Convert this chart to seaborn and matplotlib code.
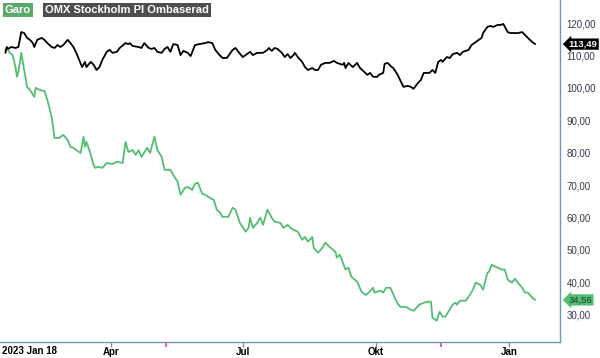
import matplotlib
matplotlib.use("Agg")
import pandas as pd
import matplotlib.pyplot as plt
import matplotlib.transforms as mtrans
import seaborn as sns

# --- DATA (days counted from 2023-01-18) ---
start_date = pd.Timestamp("2023-01-18")

garo_days = [0, 1, 3, 5, 7, 8, 9, 11, 13, 15, 17, 18, 20, 21, 24, 27, 29, 32, 34, 37,
             40, 43, 45, 47, 49, 52, 54, 55, 56, 58, 61, 62, 64, 67, 70, 74, 77, 81, 83, 85,
             88, 90, 92, 94, 98, 100, 103, 105, 108, 110, 114, 116, 119, 121, 124, 126, 129, 131, 133, 136,
             138, 141, 144, 146, 148, 150, 154, 157, 159, 162, 166, 168, 169, 171, 174, 176, 178, 181, 184, 186,
             190, 192, 195, 197, 199, 202, 205, 207, 209, 212, 213, 216, 219, 221, 224, 228, 229, 231, 235, 237,
             239, 243, 246, 249, 251, 254, 255, 259, 261, 263, 266, 269, 271, 273, 276, 278, 280, 282, 286, 291,
             294, 295, 298, 300, 302, 304, 306, 309, 311, 312, 314, 318, 321, 323, 325, 328, 330, 333, 334, 336,
             337, 340, 343, 345, 347, 350, 352, 354, 357, 359, 361, 364, 366]
garo_vals = [111.7, 112.3, 110.8, 110.1, 106.4, 103.4, 104.9, 110.8, 105.5, 100.3, 99.3, 98.7, 97.2, 100.0, 99.3, 99.0, 96.3, 91.0, 84.5, 84.5,
             85.5, 83.9, 81.8, 81.5, 80.8, 79.9, 84.9, 81.8, 83.3, 80.8, 76.2, 75.3, 75.6, 75.3, 76.8, 76.5, 77.2, 76.8, 83.3, 80.2,
             80.8, 79.3, 80.8, 78.7, 81.5, 79.9, 84.9, 80.8, 78.7, 74.7, 74.7, 73.1, 71.0, 67.0, 69.1, 69.4, 68.5, 70.4, 70.7, 67.3,
             67.0, 66.1, 65.4, 62.4, 61.7, 60.2, 60.2, 63.0, 62.4, 58.3, 55.6, 56.8, 59.9, 56.8, 58.3, 59.9, 57.7, 62.4, 59.9, 58.7,
             58.3, 56.8, 57.7, 56.8, 56.2, 55.6, 53.1, 54.0, 52.5, 54.0, 50.6, 49.1, 50.6, 52.2, 50.9, 49.4, 47.6, 48.5, 43.9, 44.5,
             41.7, 40.2, 37.1, 36.1, 36.8, 38.3, 36.8, 37.4, 36.8, 38.3, 38.3, 35.2, 33.4, 32.4, 32.4, 32.1, 31.5, 31.2, 33.1, 34.0,
             34.0, 29.1, 28.1, 30.9, 29.4, 29.4, 30.9, 33.1, 33.7, 33.1, 34.3, 34.3, 36.2, 37.7, 39.9, 39.2, 37.7, 42.9, 43.2, 45.4,
             45.1, 44.5, 43.9, 43.9, 40.8, 39.9, 41.1, 39.9, 38.3, 36.8, 36.8, 35.2, 34.56]

omx_days = [0, 1, 2, 4, 7, 9, 11, 13, 15, 17, 19, 20, 22, 25, 27, 29, 32, 34, 36, 38,
            40, 43, 45, 47, 49, 51, 53, 55, 56, 59, 61, 63, 65, 67, 70, 72, 74, 77, 79, 83,
            85, 86, 88, 92, 94, 96, 99, 101, 103, 105, 108, 110, 112, 114, 116, 119, 121, 123, 126, 128,
            131, 134, 138, 140, 143, 145, 148, 150, 153, 157, 159, 161, 164, 166, 169, 171, 174, 176, 178, 181,
            182, 184, 186, 188, 191, 193, 195, 197, 199, 200, 202, 205, 207, 209, 212, 214, 216, 218, 221, 224,
            227, 229, 233, 234, 235, 237, 240, 243, 245, 248, 250, 252, 254, 257, 258, 261, 262, 264, 267, 268,
            271, 273, 275, 278, 280, 282, 285, 287, 289, 291, 293, 295, 297, 299, 301, 302, 305, 307, 309, 312,
            314, 316, 320, 322, 324, 327, 329, 330, 333, 335, 337, 340, 342, 344, 347, 349, 351, 354, 357, 359,
            361, 364, 366]
omx_vals = [110.8, 112.6, 112.0, 112.6, 112.3, 112.6, 117.2, 116.9, 115.4, 114.8, 113.8, 112.6, 114.8, 115.4, 114.8, 113.8, 112.6, 112.3, 113.2, 112.6,
            113.2, 114.8, 113.8, 112.6, 110.8, 108.6, 106.4, 108.0, 106.4, 108.0, 107.1, 105.5, 106.4, 108.6, 111.1, 111.7, 110.8, 111.1, 112.3, 113.8,
            113.5, 113.8, 112.9, 112.6, 112.3, 113.8, 112.3, 112.0, 112.3, 111.1, 110.8, 112.0, 112.6, 111.1, 113.5, 113.2, 110.1, 111.4, 110.8, 109.8,
            113.2, 113.5, 113.8, 114.1, 113.8, 111.7, 110.1, 109.2, 109.2, 111.7, 112.3, 111.1, 109.5, 110.1, 111.1, 110.1, 110.8, 110.8, 110.8, 111.7,
            112.3, 111.4, 112.3, 112.0, 110.8, 109.5, 110.4, 109.2, 110.1, 110.8, 109.5, 108.0, 106.4, 105.5, 106.1, 105.5, 105.5, 107.1, 107.7, 107.7,
            108.3, 107.7, 107.1, 107.7, 106.1, 107.7, 106.4, 107.7, 106.1, 104.9, 104.0, 104.6, 103.4, 103.4, 104.0, 104.6, 107.4, 107.7, 106.4, 106.1,
            104.0, 102.1, 100.3, 100.6, 100.3, 99.7, 101.5, 102.4, 104.6, 104.6, 104.6, 105.5, 104.6, 108.0, 108.6, 108.0, 109.5, 109.2, 110.4, 110.8,
            110.1, 111.1, 111.7, 113.2, 113.8, 114.8, 115.4, 116.9, 118.8, 119.1, 118.8, 119.4, 119.4, 119.7, 117.2, 116.9, 116.9, 116.9, 117.2, 116.3,
            115.4, 114.1, 113.49]

y_ticks = [30, 40, 50, 60, 70, 80, 90, 100, 110, 120]
month_ticks = ["2023-04-01", "2023-07-01", "2023-10-01", "2024-01-01"]
month_labels = ["Apr", "Jul", "Okt", "Jan"]
event_ticks = ["2023-05-09", "2023-11-15"]

GREEN = "#52be72"
AXIS = "#6f97b8"
RED = "#f0404e"

garo = pd.DataFrame({"date": start_date + pd.to_timedelta(garo_days, unit="D"),
                     "value": garo_vals, "series": "Garo"})
omx = pd.DataFrame({"date": start_date + pd.to_timedelta(omx_days, unit="D"),
                    "value": omx_vals, "series": "OMX Stockholm PI Ombaserad"})
df = pd.concat([garo, omx], ignore_index=True)

sns.set_style("white")
plt.rcParams["font.family"] = ["Liberation Sans", "DejaVu Sans"]

fig = plt.figure(figsize=(6, 3.58), dpi=100)
# plot area: x 0..560 px, y 0..342 px
ax = fig.add_axes([0.0, 0.045, 0.933, 0.955])

sns.lineplot(data=df, x="date", y="value", hue="series",
             palette={"Garo": GREEN, "OMX Stockholm PI Ombaserad": "black"},
             linewidth=1.3, legend=False, ax=ax)

ax.set_xlim(start_date - pd.Timedelta(days=3.7), start_date + pd.Timedelta(days=383))
ax.set_ylim(21.6, 127.1)
ax.set_xlabel("")
ax.set_ylabel("")

# spines
for side in ["left", "top"]:
    ax.spines[side].set_visible(False)
for side in ["right", "bottom"]:
    ax.spines[side].set_color(AXIS)
    ax.spines[side].set_linewidth(1.0)

# y axis on the right, no tick marks
ax.yaxis.tick_right()
ax.set_yticks(y_ticks)
ax.set_yticklabels([f"{v:.2f}".replace(".", ",") for v in y_ticks])
ax.tick_params(axis="y", left=False, right=False, length=0, pad=5, labelsize=7,
               labelcolor="#3e3450")

# x axis: month ticks plus red event ticks
ax.set_xticks(pd.to_datetime(month_ticks))
ax.set_xticklabels(month_labels, fontweight="bold")
ax.tick_params(axis="x", which="major", bottom=True, direction="out", length=3.5, width=1,
               color=AXIS, pad=0.5, labelsize=7, labelcolor="black")
ax.set_xticks(pd.to_datetime(event_ticks), minor=True)
ax.tick_params(axis="x", which="minor", bottom=True, direction="out", length=3.5, width=1.2)
for t in ax.xaxis.get_minor_ticks():
    t.tick1line.set_color(RED)
    t.tick1line.set_markeredgecolor(RED)

ax.text(0.003, -0.028, "2023 Jan 18", transform=ax.transAxes, ha="left", va="center",
        fontsize=7, fontweight="bold", color="black")

# last value badges
blend = mtrans.blended_transform_factory(ax.transAxes, ax.transData)
ax.text(1.016, omx_vals[-1], f"{omx_vals[-1]:.2f}".replace(".", ","), transform=blend,
        ha="left", va="center", fontsize=6.8, color="white", fontweight="bold",
        bbox=dict(boxstyle="larrow,pad=0.12", fc="black", ec="none"), clip_on=False)
ax.text(1.016, garo_vals[-1], f"{garo_vals[-1]:.2f}".replace(".", ","), transform=blend,
        ha="left", va="center", fontsize=6.8, color="#1f3a25",
        bbox=dict(boxstyle="larrow,pad=0.12", fc=GREEN, ec="none"), clip_on=False)

# legend tags at top left
fig.text(0.008, 0.972, "Garo", ha="left", va="center", fontsize=8, fontweight="bold",
         color="white", bbox=dict(boxstyle="square,pad=0.2", fc="#5aa86c", ec="none"))
fig.text(0.075, 0.972, "OMX Stockholm PI Ombaserad", ha="left", va="center", fontsize=8,
         fontweight="bold", color="white",
         bbox=dict(boxstyle="square,pad=0.2", fc="#4e4e4e", ec="none"))

fig.savefig("out.png", dpi=100)
